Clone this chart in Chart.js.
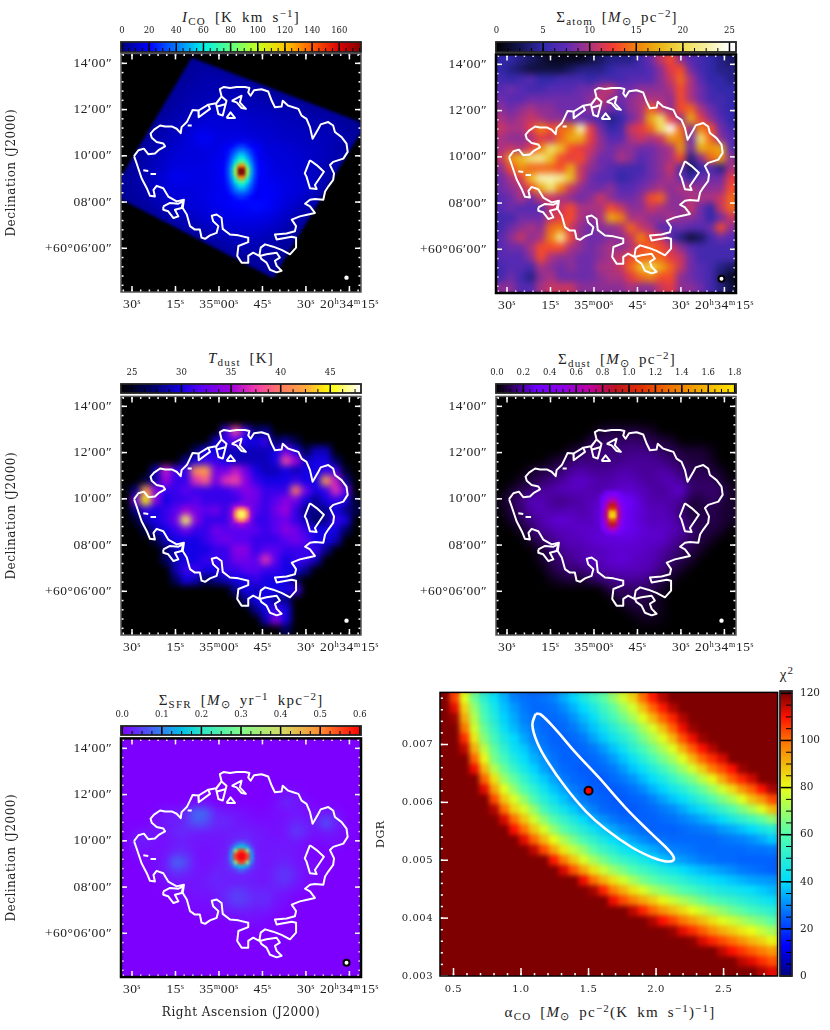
<!DOCTYPE html>
<html>
<head>
<meta charset="utf-8">
<style>
body { margin:0; background:#fff; }
canvas { position:absolute; }
.t { position:absolute; transform:translateX(-50%); white-space:nowrap; font-family:'Liberation Serif',serif; font-size:15px; word-spacing:4px; letter-spacing:1.2px; color:#222; line-height:16px; }
.t sub, .t sup { font-size:11px; line-height:0; }
.t sub { vertical-align:-2.5px; }
.t sup { vertical-align:5px; }
</style>
<script src="https://cdn.jsdelivr.net/npm/chart.js@4"></script>
</head>
<body>
<script>
// ticks
var raMajor = [30, 15, 0, -15, -30, -45];
var raLabels = ['30ˢ', '15ˢ', '35ᵐ00ˢ', '45ˢ', '30ˢ', '20ʰ34ᵐ15ˢ'];
var decMajor = [14, 12, 10, 8, 6];
var decLabels = ['14′00″', '12′00″', '10′00″', '08′00″', '+60°06′00″'];
var alphaMajor = [0.5, 1, 1.5, 2, 2.5];
var dgrMajor = [0.003, 0.004, 0.005, 0.006, 0.007];

// white contour, RA seconds from 35m00s and Dec minutes, null splits the loops
var contourRA = [29.3,27.8,25.9,24.4,22.1,20.6,18.6,19.2,21.5,23.2,23.6,22.4,20.3,18.6,16.3,14.6,13.2,12.9,11.1,10.0,9.1,7.1,7.0,3.1,3.7,1.0,-0.9,-0.3,-1.7,-3.8,-6.1,-9.0,-10.5,-10.1,-10.9,-12.1,-14.7,-17.0,-18.2,-19.3,-21.6,-22.0,-23.9,-25.6,-27.4,-28.5,-30.2,-31.4,-32.3,-34.3,-35.1,-37.7,-39.4,-40.0,-42.3,-44.0,-44.4,-42.9,-39.4,-38.3,-39.7,-39.4,-37.7,-36.6,-36.0,-33.1,-31.4,-29.7,-31.4,-33.1,-30.8,-27.9,-25.1,-26.6,-26.2,-23.3,-19.3,-19.9,-25.1,-26.6,-26.6,-24.5,-21.6,-18.7,-15.9,-14.4,-13.9,-11.8,-10.1,-10.1,-7.8,-6.3,-6.7,-10.1,-10.1,-6.7,-3.8,-1.3,-0.9,0.8,2.5,2.0,0.2,0.8,3.1,4.8,6.0,6.6,8.3,10.0,11.1,12.5,12.1,14.6,17.5,19.2,21.5,22.6,22.1,23.8,24.9,26.7,28.4,29.3,null,
  -14.1,-16.4,-19.9,-21.0,-19.3,-19.9,-21.6,-19.9,-17.6,-16.4,-14.7,-14.1,null,
  19.2,16.9,14.0,12.3,12.9,15.2,14.0,15.7,17.5,19.2,19.2,null,
  -31.4,-33.7,-36.2,-33.1,-33.7,-31.4,-30.2,-29.6,-31.4,null,
  1.0,-0.9,-2.6,-1.3,0.2,1.0,null, 0.6,-2.4,null,
  -4.4,-7.8,-7.2,-9.3,-7.8,-6.1,-4.4,null,
  -2.6,-4.0,-5.5,-2.6,null, 7.0,3.7,null, 26.1,24.4,null, 23.6,21.7,null, 10.8,9.4];
var contourDec = [9.99,10.24,10.31,10.07,10.10,10.27,10.41,10.53,10.60,10.78,10.96,11.13,11.31,11.27,11.27,11.17,10.98,11.24,11.46,11.74,11.98,11.96,11.67,12.03,12.21,12.27,12.57,12.88,12.98,12.93,12.98,12.98,12.93,12.74,12.60,12.84,12.88,12.78,12.38,12.10,12.13,12.38,12.17,12.10,12.03,11.74,11.60,11.24,10.74,11.17,11.36,11.46,11.31,11.03,10.81,10.53,10.17,9.88,9.74,9.60,9.24,8.96,8.67,8.46,8.10,8.13,8.10,7.93,7.81,7.53,7.46,7.38,7.24,6.96,6.74,6.64,6.60,6.38,6.50,6.46,6.03,5.74,5.93,6.07,6.17,6.03,5.67,5.81,5.67,5.38,5.38,5.67,6.10,6.27,6.46,6.56,6.60,6.84,7.31,7.46,7.41,7.17,6.96,6.67,6.56,6.41,6.46,6.81,6.81,6.96,7.46,7.74,8.10,8.03,8.24,8.60,8.70,8.53,8.24,8.27,8.60,9.03,9.67,9.99,null,
  5.67,5.74,5.81,5.60,5.46,5.24,5.03,4.96,5.07,5.38,5.53,5.67,null,
  7.81,7.96,7.93,8.03,7.74,7.67,7.38,7.31,7.60,7.67,7.81,null,
  9.81,9.60,9.31,8.74,8.56,8.60,9.10,9.24,9.81,null,
  12.24,12.57,12.38,11.74,11.81,12.24,null, 12.13,12.24,null,
  12.38,12.60,12.31,12.03,12.07,12.31,12.38,null,
  11.64,11.88,11.64,11.64,null, 11.96,12.21,null, 9.38,9.34,null, 9.21,9.21,null, 11.31,11.31];

// area outside the CO map footprint, one ring round the panel
var maskRA = [33.8,-49,-49,33.8,33.8,33.4,-18.7,-49,-48.6,9.43,33.4,33.8,33.8];
var maskDec = [14.43,14.43,4.11,4.11,8.10,8.10,4.70,11.03,11.46,14.24,9.17,9.17,14.43];
var beamRA = [-44];
var beamDec = [4.73];

// I_CO, K km/s, each row starts at coStart
var coStart = [0,6,6,5,5,4,3,3,2,2,1,1,0,0,0,2,3,5,7,9,11,13];
var coRows = [[],
[4,5,5,4],
[4,6,7,7,6,4],
[4,6,7,8,8,8,8,7,6,4],
[5,7,8,8,9,9,9,8,8,7,6,4],
[4,6,8,9,10,11,11,11,10,9,9,8,8,7,5,4],
[4,6,8,9,11,13,14,13,13,12,11,11,10,9,8,8,7,6,5,4],
[5,8,9,11,14,15,14,14,14,13,12,12,11,10,10,9,8,8,7,5,4],
[4,7,9,11,13,17,20,16,15,16,15,14,13,12,11,11,10,9,10,8,7,5],
[5,8,10,12,14,15,16,15,16,21,23,17,14,14,13,12,11,11,9,8,6],
[4,7,9,12,14,15,14,15,17,19,27,30,20,16,14,14,13,12,11,9,8,6],
[5,8,10,13,15,15,16,16,17,20,38,40,22,18,15,14,14,12,10,8,7],
[4,6,8,12,14,19,17,16,16,17,20,36,38,22,18,16,15,14,12,10,8],
[4,6,8,11,14,15,15,15,16,17,19,24,26,20,19,18,16,15,14,10,7],
[4,5,7,9,12,14,14,15,16,18,19,21,22,20,20,18,15,14,11,8],
[4,7,9,11,13,14,15,17,18,20,20,22,21,17,14,11,8,6],
[4,6,8,10,12,14,15,16,17,17,17,16,14,11,8,6],
[4,7,8,10,12,14,14,14,14,13,11,8,5],
[4,6,8,9,10,11,11,9,8,6,4],
[4,6,8,8,8,8,6,4],
[4,5,6,5,4],
[4,4,4]];
var coCore = [
[18,18,20,24,28,28,24,20,18,18],
[18,20,26,32,38,38,32,26,20,18],
[18,22,30,40,50,50,40,30,22,18],
[18,24,35,48,60,60,48,35,24,18],
[19,26,40,58,78,78,58,40,26,19],
[20,28,45,76,130,130,76,45,28,20],
[20,30,48,95,175,175,95,48,30,20],
[20,30,48,95,175,175,95,48,30,20],
[20,28,45,76,130,130,76,45,28,20],
[19,26,40,60,80,80,60,40,26,19],
[18,24,35,48,60,60,48,35,24,18],
[18,22,30,40,48,48,40,30,22,18],
[18,20,26,32,36,36,32,26,20,18],
[18,18,20,24,28,28,24,20,18,18]];

// Sigma atom, Msun/pc2
var atomRows = [
[5,5,4,3,2,1,1,1,1,2,3,4,4,4,6,8,11,13,9,7,6,5,4,3],
[5,4,3,2,2,2,2,3,4,4,4,5,6,6,6,7,9,12,13,8,6,5,4,4],
[6,5,6,7,5,5,6,6,6,5,6,6,6,7,7,7,9,11,14,10,7,5,5,4],
[7,8,7,6,6,7,7,7,8,8,10,11,8,8,9,9,9,10,13,10,8,6,5,5],
[8,7,7,8,8,8,8,8,8,9,11,9,8,9,10,10,10,9,13,10,8,6,6,5],
[9,8,9,10,9,9,8,8,8,9,9,8,7,9,10,14,11,9,13,14,10,8,6,5],
[10,9,10,11,10,9,9,8,8,7,6,4,5,8,10,17,21,12,9,17,12,9,7,5],
[11,10,10,12,15,13,14,15,23,12,8,5,6,11,12,14,20,25,14,9,15,13,8,6],
[10,9,9,10,12,11,14,17,17,12,9,7,7,10,11,10,11,16,15,8,21,14,9,7],
[10,11,10,12,15,21,18,13,12,11,9,8,9,9,8,8,9,10,16,8,17,16,17,7],
[11,16,18,21,22,18,13,12,13,10,8,8,10,9,7,8,9,10,13,4,9,14,16,9],
[9,13,16,14,14,14,13,17,11,9,8,7,6,6,6,8,9,11,7,3,5,7,4,10],
[8,10,12,18,23,23,22,18,11,8,7,7,5,6,7,8,9,10,8,5,8,8,8,12],
[8,9,10,13,17,21,15,11,9,8,8,9,7,7,8,9,10,9,10,10,9,9,9,13],
[7,8,10,8,11,11,10,9,8,9,11,9,8,8,9,13,14,9,9,10,10,10,11,14],
[7,8,7,7,7,11,11,13,10,10,10,13,11,9,9,11,10,9,9,11,8,5,11,14],
[6,6,8,8,8,11,12,13,10,9,10,17,15,10,10,9,9,10,9,9,8,5,8,11],
[6,8,9,10,9,14,15,11,9,8,9,9,10,14,11,10,7,7,8,7,7,8,13,9],
[7,9,11,9,10,15,22,13,9,8,8,9,9,11,15,12,11,7,4,2,3,6,8,7],
[7,8,8,10,13,13,13,10,9,8,9,10,9,10,13,14,13,11,9,7,6,6,6,6],
[7,7,7,9,13,10,9,9,8,8,9,10,11,13,14,14,14,12,11,8,6,6,6,6],
[6,7,7,6,10,9,8,9,8,8,10,10,11,14,18,20,17,14,11,8,7,6,4,3],
[6,8,6,4,9,10,8,8,8,8,9,10,10,12,14,15,13,13,9,8,7,6,3,1],
[9,9,7,7,10,11,11,11,9,9,9,9,9,10,9,9,11,12,9,9,8,6,4,2]];

// T dust, K
var tdStart = [0,0,0,10,9,7,6,3,2,1,1,1,1,2,3,4,4,5,5,11,12,13,14,16];
var tdRows = [[],[],[],
[31,38,31,27,28],
[29,31,32,30,30,31,27,28,26],
[27,30,30,29,29,29,29,29,30,33,30,26,29,29],
[28,30,31,31,30,29,29,29,29,30,38,35,29,30,30,27],
[29,36,31,31,41,42,33,33,36,33,30,29,29,30,29,30,30,31,31,25],
[26,29,35,31,31,37,39,33,37,38,34,31,30,30,30,31,30,30,42,36,28],
[28,42,34,31,31,32,31,31,31,31,32,34,33,31,31,31,40,33,30,31,37,32],
[33,45,34,30,31,31,32,31,31,31,31,33,33,31,32,34,33,30,28,30,31,30,25],
[28,31,30,31,32,35,33,32,33,31,36,36,32,31,33,35,31,28,28,28,30,28,26],
[25,29,30,31,33,46,34,31,31,31,36,36,31,31,32,33,31,29,27,28,31,30],
[26,29,30,31,33,31,31,33,32,32,32,32,31,32,34,33,31,30,30,30,27],
[26,29,30,30,30,31,32,33,32,32,31,31,31,32,33,32,30,30,29],
[27,29,30,30,30,31,31,34,34,31,32,32,31,31,31,31,28],
[27,29,30,30,31,31,31,33,33,32,37,32,30,31,31,29],
[29,31,31,30,30,31,31,32,32,31,31,30,30,28],
[27,30,29,27,28,29,30,30,31,30,30,30,26],
[28,30,29,30,30,30,31],
[28,30,30,28,28],
[28,30,31,30],
[29,34,30],
[27]];
var tdCoreStart = [0,0,0,0,3,2,2,2,2,3,0,0,0,0];
var tdCore = [[],[],[],[],
[33,34,34,33],
[33,37,40,40,37,33],
[34,41,46,46,41,34],
[34,41,46,46,41,34],
[33,37,41,41,37,33],
[33,35,35,33],[],[],[],[]];

// Sigma dust, Msun/pc2
var dustStart = [0,0,0,10,9,7,5,3,2,1,0,0,1,2,3,4,4,5,5,11,12,13,14];
var dustRows = [[],[],[],
[.06,.08,.07,.08,.07,.05],
[.08,.12,.12,.12,.13,.12,.1,.08,.06],
[.05,.1,.14,.14,.15,.15,.16,.16,.15,.12,.1,.08,.06,.07,.03],
[.04,.08,.13,.15,.15,.15,.15,.16,.18,.18,.18,.16,.14,.1,.08,.08,.05],
[.05,.08,.1,.13,.18,.2,.18,.17,.18,.2,.2,.18,.18,.2,.18,.14,.1,.1,.08,.04],
[.05,.08,.12,.15,.18,.22,.24,.22,.2,.2,.22,.22,.2,.18,.2,.22,.18,.12,.12,.12,.07,.02],
[.06,.1,.13,.18,.2,.22,.22,.22,.2,.2,.22,.24,.24,.22,.2,.18,.2,.26,.14,.12,.14,.12,.05],
[.03,.1,.15,.22,.22,.18,.16,.18,.2,.22,.24,.3,.34,.3,.24,.2,.2,.2,.18,.08,.08,.12,.1,.05],
[.02,.08,.14,.2,.22,.2,.2,.22,.2,.22,.26,.34,.34,.28,.26,.22,.22,.2,.15,.06,.08,.1,.07,.06],
[.05,.1,.16,.2,.24,.26,.24,.22,.22,.26,.34,.32,.28,.24,.22,.22,.22,.16,.1,.1,.1,.08,.05],
[.05,.12,.18,.2,.22,.22,.24,.24,.24,.26,.28,.28,.26,.24,.24,.22,.2,.14,.1,.08,.06],
[.07,.12,.16,.2,.22,.22,.24,.26,.26,.26,.26,.24,.24,.24,.2,.16,.12,.08,.05],
[.06,.12,.17,.2,.2,.22,.22,.24,.24,.24,.24,.22,.2,.17,.12,.1,.05],
[.05,.1,.14,.17,.2,.22,.22,.24,.26,.24,.22,.22,.18,.14,.1,.06],
[.08,.12,.14,.14,.18,.2,.22,.22,.22,.22,.2,.16,.1,.05],
[.03,.06,.08,.06,.1,.14,.16,.18,.18,.18,.14,.1,.05],
[.1,.12,.12,.12,.1,.06],
[.08,.1,.1,.07,.03],
[.05,.07,.06,.03],
[.03,.04,.02]];
var dustCoreStart = [0,2,1,1,1,1,1,1,1,1,1,2,0,0];
var dustCore = [[],
[.3,.36,.36,.3],
[.3,.42,.5,.5,.42,.3],
[.33,.5,.68,.68,.5,.33],
[.36,.62,.9,.9,.62,.36],
[.4,.7,1.1,1.1,.7,.4],
[.42,.78,1.7,1.7,.78,.42],
[.42,.78,1.9,1.9,.78,.42],
[.4,.7,1.2,1.2,.7,.4],
[.36,.62,.9,.9,.62,.36],
[.33,.5,.68,.68,.5,.33],
[.36,.45,.45,.36],[],[]];

// Sigma SFR, Msun/yr/kpc2
var sfrStart = [0,0,0,0,0,16,7,3,3,1,1,1,2,3,4,5,6,7,11];
var sfrRows = [[],[],[],[],[],
[.015,.01],
[.005,.01,0,0,0,0,0,0,.01,.03,.02,.01],
[.005,.02,.015,.03,.09,.08,.025,.02,.015,.01,.005,.005,.01,.01,.015,.01,.01,.02,.01],
[.01,.02,.02,.035,.07,.06,.03,.03,.02,.015,.01,.01,.01,.015,.03,.02,.02,.07,.03,.005],
[.01,.015,.015,.015,.03,.03,.02,.02,.02,.02,.02,.025,.02,.015,.01,.015,.05,.03,.01,.02,.015,.01],
[.02,.02,.01,.01,.02,.02,.015,.015,.015,.02,.03,.035,.02,.015,.015,.015,.015,.01,.005,.01,.01],
[.01,.01,.01,.015,.03,.03,.015,.01,.015,.02,.06,.06,.02,.015,.02,.02,.015,.01],
[.005,.01,.02,.09,.06,.015,.01,.015,.025,.07,.07,.025,.015,.02,.025,.015,.01,.005],
[.01,.02,.04,.03,.015,.015,.025,.025,.03,.03,.02,.015,.03,.045,.025,.01,.01],
[.01,.015,.015,.015,.02,.03,.02,.02,.02,.02,.015,.03,.04,.02,.01],
[.01,.01,.015,.015,.02,.03,.05,.04,.025,.03,.02,.015,.01],
[.01,.01,.01,.015,.03,.05,.045,.03,.035,.015,.01],
[.005,.005,.01,.015,.02,.02,.015,.015,.01],
[.005,.01,.01,.005]];
var sfrCoreStart = [0,0,0,3,2,2,2,2,2,2,3,0,0,0];
var sfrCore = [[],[],[],
[.05,.08,.08,.05],
[.05,.12,.16,.16,.12,.05],
[.09,.3,.55,.55,.3,.09],
[.12,.55,.7,.7,.55,.12],
[.12,.55,.7,.7,.55,.12],
[.09,.3,.55,.55,.3,.09],
[.05,.12,.16,.16,.12,.05],
[.04,.07,.07,.04],[],[],[]];

// chi2 over alpha_CO and DGR, cells left out of a row are above the 120 end of the scale
var chiStart = [1,1,1,2,2,2,3,3,4,4,5,5,6,7,8,9,11,12,14,15,17,19,21,23,25,28,30,32];
var chiRows = [
[105,79,64,51,42,35,29,27,26,27,29,34,39,47,54,61,69,77,86,100,109,116],
[112,86,69,56,46,37,32,28,26,26,27,30,35,40,47,55,62,70,77,89,101,109,116],
[118,92,73,59,49,39,34,29,27,26,26,27,31,36,41,50,57,64,71,79,90,101,108,116],
[99,77,63,53,42,36,31,28,26,25,26,28,32,37,43,50,57,63,71,78,89,101,111,118],
[107,83,67,57,47,40,34,29,27,25,25,26,28,33,38,44,50,57,65,72,79,90,103,111,118],
[115,91,74,62,52,43,38,32,28,26,25,25,26,28,32,37,43,51,58,65,72,79,91,102,110,116],
[101,81,65,57,48,41,35,31,27,25,25,25,26,28,32,37,43,50,58,65,71,79,90,101,107,113],
[111,90,73,63,54,46,39,33,29,26,25,24,25,26,28,32,37,42,49,56,63,70,77,87,98,104,110,118],
[101,84,70,62,53,45,38,33,28,26,25,24,24,26,28,31,36,41,47,54,61,66,74,81,92,102,108,114],
[112,93,79,69,60,52,44,37,33,28,26,25,24,24,25,27,30,35,39,45,50,57,63,70,77,85,95,102,110,117],
[104,88,78,69,59,50,43,37,32,28,26,25,24,24,25,26,29,33,37,41,47,53,60,66,72,79,89,95,104],
[116,100,86,78,69,58,50,44,38,33,29,26,25,24,24,25,26,28,30,34,38,42,48,54,60,66,72,79,89],
[113,100,88,77,68,60,53,47,40,35,31,28,26,25,25,25,26,27,29,31,34,37,41,47,52,57,62,68],
[110,100,88,78,69,61,55,49,43,38,34,30,28,26,25,25,25,26,27,28,29,32,34,37,40,45,49],
[112,101,90,80,72,65,58,52,46,41,37,33,30,28,27,26,26,26,26,26,27,28,29,31,34,38],
[115,104,93,83,75,69,61,55,50,44,41,37,34,31,29,28,27,26,26,26,26,26,27,27,28],
[109,98,88,78,71,65,59,54,50,46,42,37,34,32,30,28,27,26,26,25,25,25,25],
[113,103,93,84,76,70,65,60,56,52,48,45,41,38,36,34,32,30,28,27,26,25],
[111,100,91,84,77,71,65,61,57,54,51,47,44,41,39,37,35,33,32,31],
[117,108,98,91,84,78,72,68,64,60,57,53,50,47,45,43,41,38,36],
[111,104,98,92,87,81,76,72,68,64,60,57,54,51,48,45,42],
[115,108,101,95,90,85,80,76,72,68,64,61,57,54,51],
[116,110,105,99,94,89,84,79,76,72,68,65,61],
[118,112,107,102,96,91,87,83,80,75,71],
[119,113,108,104,100,95,90,86,81],
[115,110,106,102,98,94],
[115,112,107,103],
[116,112]];
var ellipseAlpha = [1.108,1.145,1.256,1.404,1.576,1.773,1.970,2.106,2.131,2.069,1.970,1.823,1.626,1.478,1.330,1.195,1.121,1.084,1.108];
var ellipseDgr = [.00753,.00752,.00726,.00686,.00643,.00591,.00545,.00514,.00501,.00498,.00505,.00522,.00554,.00585,.00626,.00671,.00703,.00734,.00753];
var bestAlpha = [1.5];
var bestDgr = [.0062];

// colour scales
var coStops = [[0,'#00007f'],[20,'#0000ff'],[40,'#0078ff'],[60,'#00f0e6'],[80,'#5aff82'],[100,'#c8ff1e'],[120,'#ffc800'],[140,'#ff5a00'],[160,'#dc0000'],[176,'#800000']];
var atomStops = [[0,'#000000'],[2.5,'#141450'],[5,'#3228aa'],[7.5,'#5f2bb4'],[10,'#aa3282'],[12.5,'#f53c32'],[15,'#f0820a'],[17.5,'#ebb414'],[20,'#f0dc50'],[22.5,'#f5f0a0'],[25,'#ffffff']];
var tdStops = [[24,'#000000'],[25,'#000028'],[27,'#000060'],[30,'#1400e6'],[32,'#5a00f0'],[35,'#a000dc'],[37.5,'#f03caa'],[40,'#ff7864'],[42.5,'#ffaa3c'],[45,'#ffff00'],[48,'#ffffff']];
var dustStops = [[0,'#000000'],[.1,'#280050'],[.2,'#5000aa'],[.3,'#6e00ff'],[.5,'#8c00e6'],[.7,'#be00a0'],[.9,'#be141e'],[1.1,'#e13200'],[1.3,'#f06e00'],[1.5,'#f0a000'],[1.8,'#ffe600']];
var sfrStops = [[0,'#7d00ff'],[.1,'#3282f0'],[.15,'#00bee6'],[.2,'#28e6c8'],[.3,'#82fa8c'],[.4,'#d2dc64'],[.5,'#ff8c32'],[.6,'#ff0000']];
var chiStops = [[0,'#00007f'],[13,'#0000ff'],[40,'#00dcff'],[60,'#50ffb0'],[80,'#e8ff18'],[100,'#ff7000'],[110,'#ff1000'],[120,'#7f0000']];

Chart.defaults.font.family = "'Liberation Serif', serif";
Chart.defaults.color = '#222';
var serifWide = "'DejaVu Serif', serif";

function seq(a, b, s) {
  var out = [];
  var n = Math.round((b - a) / s);
  for (var i = 0; i <= n; i++) out.push(a + i * s);
  return out;
}

function hex(c) { return [parseInt(c.slice(1, 3), 16), parseInt(c.slice(3, 5), 16), parseInt(c.slice(5, 7), 16)]; }

function colorOf(v, stops) {
  if (v <= stops[0][0]) return stops[0][1];
  for (var i = 1; i < stops.length; i++) {
    if (v <= stops[i][0]) {
      var f = (v - stops[i - 1][0]) / (stops[i][0] - stops[i - 1][0]);
      var a = hex(stops[i - 1][1]), b = hex(stops[i][1]);
      return 'rgb(' + [0, 1, 2].map(k => Math.round(a[k] + (b[k] - a[k]) * f)).join(',') + ')';
    }
  }
  return stops[stops.length - 1][1];
}

// one point per non empty cell
function cells(rows, starts, xs, ys, stops, radius, order) {
  var data = [], colors = [];
  rows.forEach((row, i) => row.forEach((v, k) => {
    if (!v) return;
    data.push({ x: xs[k + (starts ? starts[i] : 0)], y: ys[i] });
    colors.push(colorOf(v, stops));
  }));
  return { data: data, pointBackgroundColor: colors, pointBorderWidth: 0, pointRadius: radius, pointStyle: 'rect', order: order };
}

function pairs(xs, ys) { return xs.map((x, i) => ({ x: x, y: ys[i] })); }

var gridRA = seq(0, 23, 1).map(j => 32.07 - 3.448 * j);
var gridDec = seq(0, 23, 1).map(i => 14.21 - 0.4286 * i);
var coreRA = seq(0, 9, 1).map(j => -1.61 - 1.379 * j);
var coreDec = seq(0, 13, 1).map(i => 10.427 - 0.1714 * i);
var chiAlpha = seq(0, 33, 1).map(j => 0.436 + 0.0734 * j);
var chiDgr = seq(0, 27, 1).map(i => 0.007802 - 0.0001748 * i);

// map background, smoothing of the cells, inward ticks and frame
function decor(o) {
  return {
    id: 'decor',
    beforeDraw(chart) { chart.ctx.letterSpacing = '0.5px'; },
    beforeDatasetsDraw(chart) {
      var a = chart.chartArea, c = chart.ctx;
      c.save(); c.fillStyle = o.bg; c.fillRect(a.left, a.top, a.width, a.height); c.restore();
    },
    afterDatasetDraw(chart, args) {
      var ds = chart.data.datasets[args.index];
      if (!ds.blurAfter) return;
      var a = chart.chartArea, c = chart.ctx, r = chart.currentDevicePixelRatio;
      c.save();
      c.setTransform(1, 0, 0, 1, 0, 0);
      c.beginPath(); c.rect(a.left * r, a.top * r, a.width * r, a.height * r); c.clip();
      c.filter = 'blur(' + ds.blurAfter * r + 'px)';
      c.drawImage(chart.canvas, 0, 0);
      c.restore();
    },
    afterDatasetsDraw(chart) {
      var a = chart.chartArea, c = chart.ctx, sx = chart.scales.x, sy = chart.scales.y;
      c.save();
      c.strokeStyle = '#fff'; c.lineWidth = 1.5;
      function tick(x0, y0, x1, y1) { c.beginPath(); c.moveTo(x0, y0); c.lineTo(x1, y1); c.stroke(); }
      function drawX(list, len) {
        list.forEach(v => {
          var x = sx.getPixelForValue(v);
          tick(x, a.bottom, x, a.bottom - len);
          if (o.allSides) tick(x, a.top, x, a.top + len);
        });
      }
      function drawY(list, len) {
        list.forEach(v => {
          var y = sy.getPixelForValue(v);
          tick(a.left, y, a.left + len, y);
          if (o.allSides) tick(a.right, y, a.right - len, y);
        });
      }
      drawX(o.xMinor, o.minorLen); drawX(o.xMajor, o.majorLen);
      drawY(o.yMinor, o.minorLen); drawY(o.yMajor, o.majorLen);
      c.strokeStyle = o.frameColor; c.lineWidth = o.frame;
      c.strokeRect(a.left, a.top, a.width, a.height);
      c.restore();
    }
  };
}

function addCanvas(left, top, w, h) {
  var el = document.createElement('canvas');
  el.width = w; el.height = h;
  el.style.left = left + 'px'; el.style.top = top + 'px';
  el.style.width = w + 'px'; el.style.height = h + 'px';
  document.body.appendChild(el);
  return el;
}

function fixedX(h) { return s => { s.height = h; s.paddingLeft = 0; s.paddingRight = 0; }; }
function fixedY(w) { return s => { s.width = w; s.paddingTop = 0; s.paddingBottom = 0; }; }

function mapChart(o) {
  var leftSpace = o.col === 0 ? 121 : 96;
  var canvasLeft = o.col === 0 ? 0 : 400;
  var bottomSpace = o.xTitle ? 46 : 32;
  var el = addCanvas(canvasLeft, o.top - 6, 395, 6 + 240 + bottomSpace);
  var datasets = [];
  var base = cells(o.rows, o.starts, gridRA, gridDec, o.stops, 7.4, 5);
  base.blurAfter = o.blur;
  datasets.push(base);
  if (o.foot) datasets.push({ data: pairs(maskRA, maskDec), showLine: true, fill: 'shape', backgroundColor: '#000', borderColor: '#000', borderWidth: 0, pointRadius: 0, order: 4 });
  var core = cells(o.core, o.coreStarts, coreRA, coreDec, o.stops, 3, 3);
  core.blurAfter = 1.6;
  datasets.push(core);
  datasets.push({ data: pairs(contourRA, contourDec), showLine: true, borderColor: '#fff', borderWidth: 2, borderJoinStyle: 'round', pointRadius: 0, spanGaps: false, tension: 0, order: 2 });
  datasets.push({ data: pairs(beamRA, beamDec), pointRadius: o.ring ? 3 : 2.2, pointBackgroundColor: '#fff', pointBorderColor: '#000', pointBorderWidth: o.ring ? 2 : 0, order: 1 });
  new Chart(el, {
    type: 'scatter',
    data: { datasets: datasets },
    plugins: [decor({ bg: o.bg, allSides: true, minorLen: 2.5, majorLen: 6, frame: o.frame, frameColor: o.frameColor,
      xMajor: raMajor, xMinor: seq(33, -48, -3), yMajor: decMajor, yMinor: seq(14.4, 4.4, -0.4) })],
    options: {
      animation: false, responsive: false, events: [],
      layout: { padding: { top: 6, right: 395 - leftSpace - 240, left: 0, bottom: 0 } },
      plugins: { legend: { display: false }, tooltip: { enabled: false } },
      scales: {
        x: {
          type: 'linear', reverse: true, min: -49, max: 33.8, bounds: 'data',
          grid: { display: false, drawTicks: false }, border: { display: false },
          afterBuildTicks: s => { s.ticks = raMajor.map(v => ({ value: v })); },
          afterFit: fixedX(bottomSpace),
          ticks: { autoSkip: false, maxRotation: 0, minRotation: 0, padding: 4, font: { size: 13.5 }, callback: v => raLabels[raMajor.indexOf(v)] },
          title: { display: !!o.xTitle, text: o.xTitle, font: { family: serifWide, size: 12 }, color: '#222', padding: { top: 0, bottom: 3 } }
        },
        y: {
          type: 'linear', min: 4.11, max: 14.43, bounds: 'data',
          grid: { display: false, drawTicks: false }, border: { display: false },
          afterBuildTicks: s => { s.ticks = decMajor.map(v => ({ value: v })); },
          afterFit: fixedY(leftSpace),
          ticks: { autoSkip: false, padding: 9, font: { size: 13.5 }, callback: v => decLabels[decMajor.indexOf(v)] },
          title: { display: o.col === 0, text: 'Declination (J2000)', font: { family: serifWide, size: 12 }, color: '#222', padding: { top: 5, bottom: 0 } }
        }
      }
    }
  });
}

// colour bar, a single floating bar filled with the colour scale
function colorBar(o) {
  var vertical = !!o.vertical;
  var el = vertical ? addCanvas(o.left - 5, o.top - 5, 55, o.len + 12) : addCanvas(o.left - 15, o.top - 24, o.len + 30, 24 + o.thick + 2);
  var fill = c => {
    var a = c.chart.chartArea;
    if (!a) return '#000';
    var g = vertical ? c.chart.ctx.createLinearGradient(0, a.bottom, 0, a.top) : c.chart.ctx.createLinearGradient(a.left, 0, a.right, 0);
    o.stops.forEach(s => { var p = (s[0] - o.min) / (o.max - o.min); if (p >= 0 && p <= 1) g.addColorStop(p, s[1]); });
    return g;
  };
  var valueScale = {
    type: 'linear', min: o.min, max: o.max, bounds: 'data', position: vertical ? 'right' : 'top',
    grid: { display: false, drawTicks: false }, border: { display: false },
    afterBuildTicks: s => { s.ticks = o.ticks.map(v => ({ value: v })); },
    afterFit: vertical ? fixedY(38) : fixedX(24),
    ticks: { autoSkip: false, maxRotation: 0, minRotation: 0, padding: vertical ? 8 : 6, font: { family: serifWide, size: vertical ? 10.5 : 8.5 }, callback: (v) => o.labels[o.ticks.indexOf(v)] }
  };
  var plugin = {
    id: 'barTicks',
    afterDatasetsDraw(chart) {
      var a = chart.chartArea, c = chart.ctx, s = vertical ? chart.scales.y : chart.scales.x;
      c.save(); c.strokeStyle = '#000';
      c.lineWidth = 1;
      o.minor.forEach(v => {
        var p = s.getPixelForValue(v);
        c.beginPath();
        if (vertical) { c.moveTo(a.right - 6, p); c.lineTo(a.right, p); } else { c.moveTo(p, a.bottom); c.lineTo(p, a.bottom - 4); }
        c.stroke();
      });
      c.lineWidth = 1.5;
      o.ticks.forEach(v => {
        var p = s.getPixelForValue(v);
        c.beginPath();
        if (vertical) { c.moveTo(a.left, p); c.lineTo(a.right, p); } else { c.moveTo(p, a.top); c.lineTo(p, a.bottom); }
        c.stroke();
      });
      c.strokeStyle = '#222'; c.lineWidth = 1.8;
      c.strokeRect(a.left, a.top, a.width, a.height);
      c.restore();
    }
  };
  new Chart(el, {
    type: 'bar',
    data: { labels: [''], datasets: [{ data: [[o.min, o.max]], backgroundColor: fill, barPercentage: 1, categoryPercentage: 1, borderWidth: 0 }] },
    plugins: [plugin],
    options: {
      indexAxis: vertical ? 'x' : 'y', animation: false, responsive: false, events: [],
      layout: { padding: vertical ? { left: 5, top: 5, right: 0, bottom: 7 } : { left: 15, right: 15, top: 0, bottom: 2 } },
      plugins: { legend: { display: false }, tooltip: { enabled: false } },
      scales: vertical
        ? { y: valueScale, x: { type: 'category', display: false } }
        : { x: valueScale, y: { type: 'category', display: false } }
    }
  });
}

function title(html, cx, cy) {
  var d = document.createElement('div');
  d.className = 't';
  d.innerHTML = html;
  d.style.left = cx + 'px';
  d.style.top = (cy - 8) + 'px';
  document.body.appendChild(d);
}

var sun = '<i>M</i><sub>⊙</sub>';
title('<i>I</i><sub>CO</sub> [K km s<sup>−1</sup>]', 241, 17);
title('Σ<sub>atom</sub> [' + sun + ' pc<sup>−2</sup>]', 617, 17);
title('<i>T</i><sub>dust</sub> [K]', 241, 358);
title('Σ<sub>dust</sub> [' + sun + ' pc<sup>−2</sup>]', 617, 359);
title('Σ<sub>SFR</sub> [' + sun + ' yr<sup>−1</sup> kpc<sup>−2</sup>]', 241, 700);
title('α<sub>CO</sub> [' + sun + ' pc<sup>−2</sup>(K km s<sup>−1</sup>)<sup>−1</sup>]', 610, 1012);
title('χ<sup>2</sup>', 787, 674);

colorBar({ left: 121, top: 42, len: 240, thick: 10, min: -0.7, max: 176, stops: coStops, ticks: [0,20,40,60,80,100,120,140,160], labels: ['0','20','40','60','80','100','120','140','160'], minor: seq(5, 175, 5) });
colorBar({ left: 496, top: 42, len: 240, thick: 10, min: -0.05, max: 25.7, stops: atomStops, ticks: [0,5,10,15,20,25], labels: ['0','5','10','15','20','25'], minor: seq(1.25, 25, 1.25) });
colorBar({ left: 121, top: 384, len: 240, thick: 9, min: 23.9, max: 48.1, stops: tdStops, ticks: [25,30,35,40,45], labels: ['25','30','35','40','45'], minor: seq(25, 47.5, 1.25) });
colorBar({ left: 496, top: 384, len: 240, thick: 9, min: -0.007, max: 1.81, stops: dustStops, ticks: [0,.2,.4,.6,.8,1,1.2,1.4,1.6,1.8], labels: ['0.0','0.2','0.4','0.6','0.8','1.0','1.2','1.4','1.6','1.8'], minor: seq(.05, 1.8, .05) });
colorBar({ left: 121, top: 726, len: 240, thick: 9, min: -0.003, max: 0.603, stops: sfrStops, ticks: [0,.1,.2,.3,.4,.5,.6], labels: ['0.0','0.1','0.2','0.3','0.4','0.5','0.6'], minor: seq(.025, .6, .025) });
colorBar({ vertical: true, left: 780, top: 691, len: 285, thick: 12, min: 0, max: 121, stops: chiStops, ticks: [0,20,40,60,80,100,120], labels: ['0','20','40','60','80','100','120'], minor: seq(5, 120, 5) });

mapChart({ col: 0, top: 52, rows: coRows, starts: coStart, core: coCore, coreStarts: null, stops: coStops, bg: colorOf(4, coStops), foot: true, blur: 4, frame: 1.5, frameColor: '#555' });
mapChart({ col: 1, top: 53, rows: atomRows, starts: null, core: [], coreStarts: null, stops: atomStops, bg: '#14144a', ring: true, blur: 3, frame: 2.5, frameColor: '#000' });
mapChart({ col: 0, top: 395, rows: tdRows, starts: tdStart, core: tdCore, coreStarts: tdCoreStart, stops: tdStops, bg: '#000', blur: 3, frame: 1.5, frameColor: '#555' });
mapChart({ col: 1, top: 395, rows: dustRows, starts: dustStart, core: dustCore, coreStarts: dustCoreStart, stops: dustStops, bg: '#000', blur: 4, frame: 1.5, frameColor: '#555' });
mapChart({ col: 0, top: 737, rows: sfrRows, starts: sfrStart, core: sfrCore, coreStarts: sfrCoreStart, stops: sfrStops, bg: '#7d00ff', ring: true, blur: 4, frame: 2.5, frameColor: '#000', xTitle: 'Right Ascension (J2000)' });

// chi2 panel
var chiMap = cells(chiRows, chiStart, chiAlpha, chiDgr, chiStops, 7.4, 4);
chiMap.blurAfter = 2.6;
new Chart(addCanvas(370, 685, 415, 345), {
  type: 'scatter',
  data: { datasets: [
    chiMap,
    { data: pairs(ellipseAlpha, ellipseDgr), showLine: true, borderColor: '#fff', borderWidth: 2.6, pointRadius: 0, tension: 0.4, order: 2 },
    { data: pairs(bestAlpha, bestDgr), pointRadius: 4, pointBackgroundColor: '#ff0000', pointBorderColor: '#000', pointBorderWidth: 2, order: 1 }
  ] },
  plugins: [decor({ bg: '#7f0000', allSides: false, minorLen: 3, majorLen: 8, frame: 1.5, frameColor: '#000',
    xMajor: alphaMajor, xMinor: seq(0.5, 2.8, 0.1), yMajor: dgrMajor, yMinor: seq(0.0032, 0.0078, 0.0002) })],
  options: {
    animation: false, responsive: false, events: [],
    layout: { padding: { top: 6, right: 6, left: 0, bottom: 0 } },
    plugins: { legend: { display: false }, tooltip: { enabled: false } },
    scales: {
      x: {
        type: 'linear', min: 0.4, max: 2.9, bounds: 'data',
        grid: { display: false, drawTicks: false }, border: { display: false },
        afterBuildTicks: s => { s.ticks = alphaMajor.map(v => ({ value: v })); },
        afterFit: fixedX(54),
        ticks: { autoSkip: false, maxRotation: 0, padding: 7, font: { family: serifWide, size: 10 }, callback: v => v.toFixed(1) }
      },
      y: {
        type: 'linear', min: 0.003, max: 0.0079, bounds: 'data',
        grid: { display: false, drawTicks: false }, border: { display: false },
        afterBuildTicks: s => { s.ticks = dgrMajor.map(v => ({ value: v })); },
        afterFit: fixedY(70),
        ticks: { autoSkip: false, padding: 7, font: { family: serifWide, size: 10 }, callback: v => v.toFixed(3) },
        title: { display: true, text: 'DGR', font: { family: serifWide, size: 11 }, color: '#222', padding: { top: 5, bottom: 0 } }
      }
    }
  }
});
</script>
</body>
</html>
